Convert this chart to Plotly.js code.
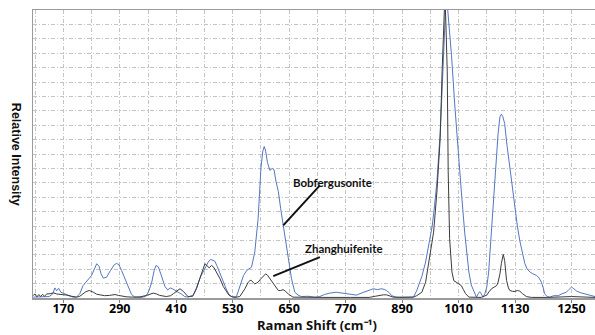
<!DOCTYPE html>
<html>
<head>
<meta charset="utf-8">
<script src="https://cdn.plot.ly/plotly-3.0.1.min.js"></script>
<style>html,body{margin:0;padding:0;background:#fff;}#chart{width:595px;height:335px;}</style>
</head>
<body>
<div id="chart"></div>
<script>
// Bobfergusonite (blue) Raman shift (cm-1) and relative intensity (%)
var bobX = [106,125,140,148,152,156,160,165,172,180,190,198,205,212,220,230,236,241,246,250,255,262,270,278,283,288,294,301,308,315,322,335,345,352,358,363,367,372,378,386,392,397,402,408,414,420,428,435,446,453,457,462,467,472,478,483,487,492,497,503,510,517,524,530,538,545,549,553,560,565,570,577,584,590,594,597,600,604,609,614,618,622,627,632,637,643,648,655,662,669,676,690,705,715,725,736,750,765,780,793,805,815,822,829,838,845,852,857,863,868,878,900,914,921,927,932,940,946,950,954,959,964,968,971,975,978,981,983,985,988,991,995,1002,1009,1016,1023,1028,1032,1037,1041,1048,1052,1055,1058,1062,1066,1070,1074,1077,1080,1084,1087,1091,1094,1098,1101,1104,1108,1113,1119,1124,1130,1135,1140,1146,1151,1156,1162,1168,1176,1181,1186,1190,1193,1198,1204,1212,1222,1230,1239,1245,1250,1255,1261,1270,1278,1290,1300];
var bobY = [0.3,0.5,0.5,1.5,3.5,2.5,3.4,2,1.5,1,0.3,0.3,1.5,4.3,6,7.8,10,11.9,11,8.5,6.9,7.2,9.5,11.5,12,11.6,9.5,6.7,3.5,1.2,0.3,0.2,0.5,2.5,5.5,9.5,11.3,10.8,8,4,2.8,3.5,3.2,2.5,2,1.5,0.5,0.3,1,3.5,5.5,7.5,9,10.8,12.5,13.4,13.2,12.8,11,8.5,5.5,2.8,0.8,0.3,0.5,4.3,5.8,7.8,9.6,10.2,10.7,16,27.5,45,51,52.6,51,47,44.3,45,44.5,40.5,37,31,25.8,20,14.8,6.7,2,1,0.5,0.6,0.3,0.5,1.2,1.7,2,1.6,1.2,1,1.8,2.3,2.6,3.2,2.9,3.2,3.0,2.6,1.8,0.8,0.3,0.3,0.3,2.5,5,7.5,12.5,18,21.5,25,32,40.3,50,57.7,72,84.3,99.4,103,104,98,91,84.3,67,50.7,36.8,22.9,15,9,4.5,3,0.3,1.5,2.2,1.5,0.3,1.5,3.8,9,16.5,25,33.9,42,51.3,57,62.9,63.8,63,60.6,53,45.5,38,30.4,25,20,15.5,11.9,10,9,8.4,7.8,7,5.5,3.5,1.5,0.5,0.3,0.8,0.8,1.5,2,3,3.8,3.2,2.4,1.8,1.5,0.8,0.5];

// Zhanghuifenite (black)
var zhaX = [106,110,114,118,122,126,130,135,142,149,156,163,170,177,188,198,205,212,218,225,230,234,241,248,258,268,275,280,287,294,305,318,333,347,355,361,368,375,389,398,404,411,418,425,430,435,445,453,460,466,471,475,480,485,489,492,497,503,510,517,522,528,535,545,551,556,560,563,567,570,574,577,581,584,589,593,597,600,604,607,612,616,621,627,632,637,642,648,658,680,720,780,820,833,842,850,857,864,871,885,914,921,932,940,946,951,957,964,971,975,979,981,983,986,988,991,996,1000,1005,1011,1016,1020,1025,1032,1048,1058,1064,1070,1075,1080,1086,1091,1094,1098,1101,1103,1105,1108,1110,1112,1116,1119,1125,1130,1135,1140,1146,1154,1165,1200,1250,1300];
var zhaY = [0.9,1.4,0.4,1.2,0.5,1.3,0.6,1.4,1.5,1.8,1.4,1.3,1.2,1,0.6,0.3,0.6,1.4,2.2,2.6,2.3,2,1.3,1,0.8,0.9,1.1,1.2,0.9,0.6,0.4,0.3,0.4,0.9,1.4,1.7,1.4,0.9,0.5,0.8,1.5,2.5,3.2,2.3,1.2,0.5,0.6,3.2,6.7,9.5,11.9,11.3,10.5,11.3,10.8,10,8.5,6.7,4,2.3,1,0.5,0.2,0.5,1.8,3.2,4.5,5.5,6.1,6.1,5.3,4.9,5.2,5.5,6.5,7.2,8.2,8.4,7.9,7.2,6,4.9,3.6,2.6,2.6,2.9,2.4,1.4,0.3,0.2,0.2,0.2,0.2,0.6,0.9,1.1,1.1,0.8,0.3,0.2,0.3,0.8,2,5.5,11.3,16.5,22.9,36.8,55.4,78.5,98.3,105,96,78.5,43.8,20.6,9,6,5.5,5,4.3,3,1.5,0.3,0.2,0.2,0.6,1,2.2,3.2,3.8,4.3,5.5,8.4,12,14.2,15.1,13,9.5,6.1,3.5,2.6,2.3,2.3,2.6,2.4,1.5,0.5,0.2,0.2,0.5,0.2];

var xTicks = [170,290,410,530,650,770,890,1010,1130,1250];
var seriesNames = ['Bobfergusonite','Zhanghuifenite'];

var gridStyle = {color:'#c4c4c4', dash:'4px,2px,1px,2px'};

var traces = [
  {x:bobX, y:bobY, type:'scatter', mode:'lines', name:seriesNames[0],
   line:{color:'#5576c2', width:1}},
  {x:zhaX, y:zhaY, type:'scatter', mode:'lines', name:seriesNames[1],
   line:{color:'#3c3c3c', width:1}}
];

var layout = {
  width:595, height:335,
  margin:{l:33, r:0, t:10, b:37, pad:0},
  paper_bgcolor:'#ffffff', plot_bgcolor:'#ffffff',
  showlegend:false,
  xaxis:{
    range:[105.6,1300],
    tickvals:xTicks, ticktext:xTicks.map(function(v){return '<b>'+v+'</b>';}),
    ticks:'outside', ticklen:3, tickcolor:'#808080', tickwidth:1,
    ticklabelstandoff:-5,
    showgrid:true, gridcolor:gridStyle.color, griddash:gridStyle.dash, gridwidth:1,
    minor:{dtick:60, tick0:170, showgrid:true, gridcolor:gridStyle.color, griddash:gridStyle.dash, gridwidth:1, ticks:''},
    showline:true, linecolor:'#9a9a9a', linewidth:1.5, mirror:true,
    zeroline:false,
    tickfont:{family:'Open Sans, sans-serif', size:12.5, color:'#000', weight:'bold'}
  },
  yaxis:{
    range:[0,100], dtick:5,
    showticklabels:false, ticks:'',
    showgrid:true, gridcolor:gridStyle.color, griddash:gridStyle.dash, gridwidth:1,
    showline:true, linecolor:'#9a9a9a', linewidth:1.5,
    zeroline:false
  },
  annotations:[
    {xref:'paper', yref:'paper', x:-0.03, y:0.5, text:'<b>Relative Intensity</b>', showarrow:false,
     textangle:90, xanchor:'center', yanchor:'middle',
     font:{family:'Liberation Sans, Arial, sans-serif', size:12.5, color:'#111'}},
    {xref:'paper', yref:'paper', x:0.505, y:-0.13, text:'<b>Raman Shift (cm⁻¹)</b>', showarrow:false,
     xanchor:'center', yanchor:'bottom', borderpad:0,
     font:{family:'Open Sans, sans-serif', size:13, color:'#111'}},
    {xref:'x', yref:'y', x:741.9, y:40.2, text:'<b>'+seriesNames[0]+'</b>', showarrow:false,
     xanchor:'center', yanchor:'middle', font:{family:'Lato, sans-serif', size:11.5, color:'#111'}},
    {xref:'x', yref:'y', x:766.4, y:17.2, text:'<b>'+seriesNames[1]+'</b>', showarrow:false,
     xanchor:'center', yanchor:'middle', font:{family:'Lato, sans-serif', size:11.5, color:'#111'}}
  ],
  shapes:[
    {type:'line', xref:'x', yref:'y', x0:637.4, y0:25.2, x1:715.3, y1:39.1, line:{color:'#111', width:2}},
    {type:'line', xref:'x', yref:'y', x0:616.2, y0:7.6, x1:715.3, y1:14.2, line:{color:'#111', width:2}}
  ]
};

Plotly.newPlot('chart', traces, layout, {staticPlot:true, displayModeBar:false});
</script>
</body>
</html>
